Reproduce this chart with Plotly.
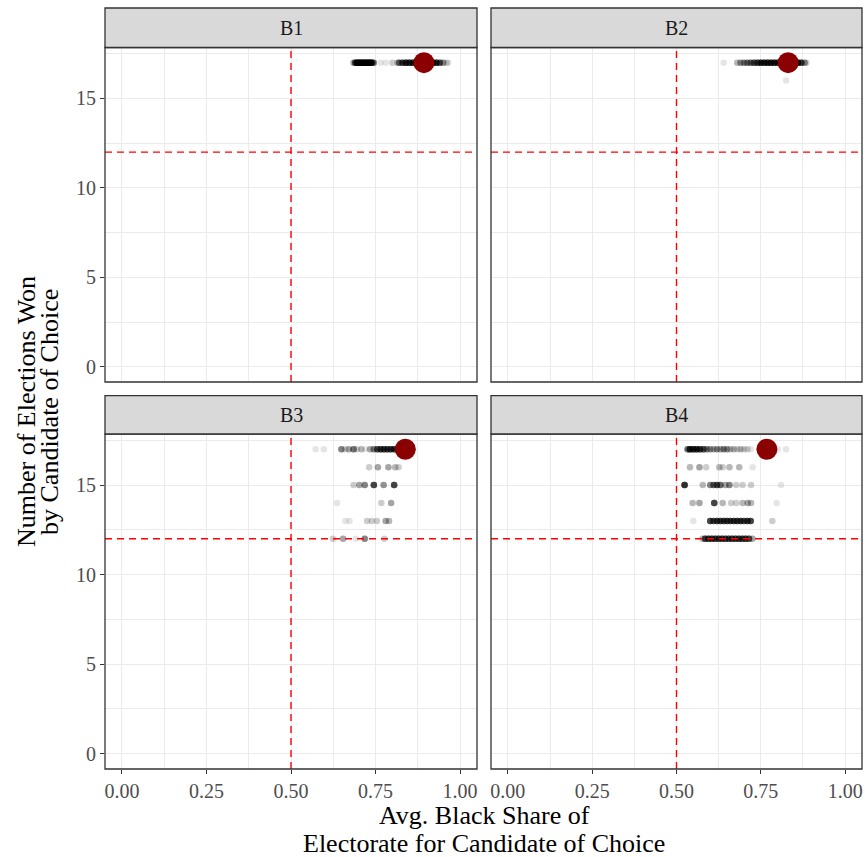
import numpy as np
import plotly.graph_objects as go

# ---------------- data ----------------
panels = ["B1", "B2", "B3", "B4"]

# simulated plans: x = avg black share, y = elections won, n = number of overlapping plans
b1_x = [0.685, 0.69, 0.695, 0.70, 0.705, 0.71, 0.715, 0.72, 0.725, 0.73, 0.735, 0.74, 0.745,
        0.765, 0.78, 0.80, 0.815, 0.82, 0.83, 0.84, 0.85, 0.86, 0.87, 0.88, 0.89, 0.90,
        0.91, 0.92, 0.93, 0.94, 0.95, 0.96, 0.965]
b1_y = [17] * 33
b1_n = [4, 10, 15, 15, 15, 15, 15, 15, 15, 15, 15, 12, 6,
        1, 1, 2, 3, 8, 12, 15, 15, 15, 15, 15, 15, 15,
        15, 15, 15, 10, 5, 2, 1]

b2_x = [0.64, 0.68, 0.69, 0.70, 0.71, 0.72, 0.73, 0.74, 0.75, 0.76, 0.77, 0.78, 0.79,
        0.80, 0.81, 0.82, 0.83, 0.84, 0.85, 0.86, 0.87, 0.88, 0.885, 0.825]
b2_y = [17] * 23 + [16]
b2_n = [1, 3, 5, 6, 7, 8, 10, 12, 15, 15, 15, 15, 15,
        15, 15, 15, 15, 15, 15, 15, 12, 5, 2, 1]

b3_x = [0.573, 0.597, 0.649, 0.66, 0.671, 0.685, 0.695, 0.708, 0.72, 0.734, 0.745,
        0.755, 0.765, 0.775, 0.785, 0.795, 0.805, 0.815, 0.825, 0.835, 0.845,
        0.731, 0.757, 0.788, 0.808, 0.818,
        0.685, 0.702, 0.718, 0.745, 0.774, 0.805,
        0.636, 0.767, 0.796,
        0.661, 0.673, 0.725, 0.739, 0.754, 0.780, 0.790,
        0.624, 0.654, 0.692, 0.718, 0.776]
b3_y = [17] * 21 + [16] * 5 + [15] * 6 + [14] * 3 + [13] * 7 + [12] * 5
b3_n = [1, 1, 6, 2, 4, 7, 2, 3, 1, 4, 6, 10, 12, 12, 12, 12, 12, 12, 12, 12, 6,
        2, 4, 4, 3, 2,
        2, 4, 6, 12, 5, 12,
        1, 2, 4,
        1, 1, 2, 2, 2, 4, 3,
        2, 4, 1, 6, 2]

b4_x = [0.533, 0.54, 0.55, 0.56, 0.57, 0.58, 0.59, 0.60, 0.61, 0.62, 0.63, 0.64, 0.65,
        0.66, 0.67, 0.68, 0.69, 0.70, 0.71, 0.72, 0.78, 0.80, 0.825,
        0.540, 0.568, 0.588, 0.627, 0.637, 0.657, 0.686, 0.726,
        0.524, 0.578, 0.600, 0.610, 0.620, 0.630, 0.645, 0.657, 0.677, 0.696, 0.721, 0.810,
        0.548, 0.568, 0.612, 0.637, 0.662, 0.677, 0.696, 0.711, 0.721, 0.797,
        0.550, 0.600, 0.610, 0.620, 0.630, 0.640, 0.650, 0.660, 0.670, 0.680, 0.690,
        0.700, 0.710, 0.720, 0.784,
        0.577, 0.585, 0.595, 0.605, 0.615, 0.625, 0.635, 0.645, 0.655, 0.665, 0.675,
        0.685, 0.695, 0.705, 0.715, 0.725]
b4_y = [17] * 23 + [16] * 8 + [15] * 12 + [14] * 10 + [13] * 15 + [12] * 16
b4_n = [8, 15, 15, 15, 12, 10, 6, 5, 4, 5, 4, 6, 5, 3, 3, 2, 3, 2, 2, 1, 1, 1, 1,
        3, 4, 2, 3, 2, 3, 3, 1,
        15, 3, 6, 8, 10, 8, 4, 6, 2, 2, 2, 1,
        3, 4, 12, 3, 2, 2, 3, 4, 3, 1,
        1, 12, 10, 12, 12, 12, 12, 12, 12, 12, 12, 10, 12, 12, 2,
        3, 12, 12, 12, 12, 12, 12, 12, 12, 12, 12, 12, 12, 12, 10, 4]

sim_x = [b1_x, b2_x, b3_x, b4_x]
sim_y = [b1_y, b2_y, b3_y, b4_y]
sim_n = [b1_n, b2_n, b3_n, b4_n]

# enacted plan (red dot)
enacted_x = [0.893, 0.831, 0.838, 0.768]
enacted_y = [17, 17, 17, 17]

vline_x = 0.5
hline_y = 12

x_ticks = [0.0, 0.25, 0.5, 0.75, 1.0]
x_ticklabels = ["0.00", "0.25", "0.50", "0.75", "1.00"]
y_ticks = [0, 5, 10, 15]
y_ticklabels = ["0", "5", "10", "15"]

x_title_lines = ["Avg. Black Share of", "Electorate for Candidate of Choice"]
y_title_lines = ["Number of Elections Won", "by Candidate of Choice"]

# ---------------- layout geometry ----------------
W, H = 865, 857
ML, MR, MT, MB = 105, 3, 8, 88
PW, PH = W - ML - MR, H - MT - MB


def fx(px):
    return (px - ML) / PW


def fy(py):
    return (H - MB - py) / PH


xdom = [[0.0, fx(477)], [fx(491), 1.0]]
ydom_top = [fy(382), fy(47.5)]
ydom_bot = [0.0, fy(434)]
strip_top = [fy(47.5), 1.0]
strip_bot = [fy(434), fy(395.7)]

pos = [(0, ydom_top, strip_top), (1, ydom_top, strip_top),
       (0, ydom_bot, strip_bot), (1, ydom_bot, strip_bot)]

FONT = "Liberation Serif, Times New Roman, serif"
fig = go.Figure()
shapes = []
annotations = []

for i, name in enumerate(panels):
    ax = "" if i == 0 else str(i + 1)
    xref, yref = "x" + ax, "y" + ax
    xs = np.repeat(np.array(sim_x[i]), sim_n[i])
    ys = np.repeat(np.array(sim_y[i]), sim_n[i])
    fig.add_trace(go.Scatter(
        x=xs, y=ys, mode="markers", xaxis=xref, yaxis=yref,
        marker=dict(color="black", size=6.5, opacity=0.1, line=dict(width=0)),
        showlegend=False, hoverinfo="skip"))
    fig.add_trace(go.Scatter(
        x=[enacted_x[i]], y=[enacted_y[i]], mode="markers", xaxis=xref, yaxis=yref,
        marker=dict(color="#8B0000", size=21, line=dict(width=0)),
        showlegend=False))

    col, yd, sd = pos[i]
    bottom_row = i >= 2
    left_col = col == 0
    fig.layout["xaxis" + ax] = dict(
        domain=xdom[col], range=[-0.05, 1.05], anchor=yref,
        tickvals=x_ticks, ticktext=x_ticklabels, showticklabels=bottom_row,
        ticks="outside" if bottom_row else "", ticklen=4, tickwidth=1.1, tickcolor="#333333",
        showgrid=True, gridcolor="#ebebeb", gridwidth=1.1,
        minor=dict(tickvals=[0.125, 0.375, 0.625, 0.875], showgrid=True,
                   gridcolor="#ebebeb", gridwidth=0.6, ticks=""),
        zeroline=False, showline=False,
        tickfont=dict(family=FONT, size=20, color="#4d4d4d"))
    fig.layout["yaxis" + ax] = dict(
        domain=yd, range=[-0.85, 17.85], anchor=xref,
        tickvals=y_ticks, ticktext=y_ticklabels, showticklabels=left_col,
        ticks="outside" if left_col else "", ticklen=4, tickwidth=1.1, tickcolor="#333333",
        showgrid=True, gridcolor="#ebebeb", gridwidth=1.1,
        minor=dict(tickvals=[2.5, 7.5, 12.5, 17.5], showgrid=True,
                   gridcolor="#ebebeb", gridwidth=0.6, ticks=""),
        zeroline=False, showline=False,
        tickfont=dict(family=FONT, size=20, color="#4d4d4d"))

    # reference lines
    shapes.append(dict(type="line", xref=xref, yref=yref + " domain", x0=vline_x, x1=vline_x,
                       y0=0, y1=1, line=dict(color="#FF0000", width=1.4, dash="7px,5px"),
                       layer="above"))
    shapes.append(dict(type="line", xref=xref + " domain", yref=yref, x0=0, x1=1,
                       y0=hline_y, y1=hline_y,
                       line=dict(color="#FF0000", width=1.4, dash="7px,5px"), layer="above"))
    # panel border
    shapes.append(dict(type="rect", xref="paper", yref="paper",
                       x0=xdom[col][0], x1=xdom[col][1], y0=yd[0], y1=yd[1],
                       line=dict(color="#333333", width=1.3), fillcolor="rgba(0,0,0,0)",
                       layer="above"))
    # strip
    shapes.append(dict(type="rect", xref="paper", yref="paper",
                       x0=xdom[col][0], x1=xdom[col][1], y0=sd[0], y1=sd[1],
                       line=dict(color="#333333", width=1.3), fillcolor="#d9d9d9",
                       layer="above"))
    annotations.append(dict(text=name, xref="paper", yref="paper",
                            x=(xdom[col][0] + xdom[col][1]) / 2, y=(sd[0] + sd[1]) / 2,
                            showarrow=False, xanchor="center", yanchor="middle",
                            font=dict(family=FONT, size=20, color="#1a1a1a")))

for line_txt, py in zip(x_title_lines, [815, 843]):
    annotations.append(dict(text=line_txt, xref="paper", yref="paper", x=fx(484), y=fy(py),
                            showarrow=False, xanchor="center", yanchor="middle",
                            font=dict(family=FONT, size=26, color="black")))
for line_txt, px in zip(y_title_lines, [27, 50]):
    annotations.append(dict(text=line_txt, xref="paper", yref="paper", x=fx(px), y=fy(412),
                            showarrow=False, xanchor="center", yanchor="middle", textangle=-90,
                            font=dict(family=FONT, size=26, color="black")))

fig.update_layout(
    width=W, height=H, margin=dict(l=ML, r=MR, t=MT, b=MB),
    paper_bgcolor="white", plot_bgcolor="white",
    shapes=shapes, annotations=annotations, showlegend=False,
    font=dict(family=FONT))

fig.write_html("out.html")
